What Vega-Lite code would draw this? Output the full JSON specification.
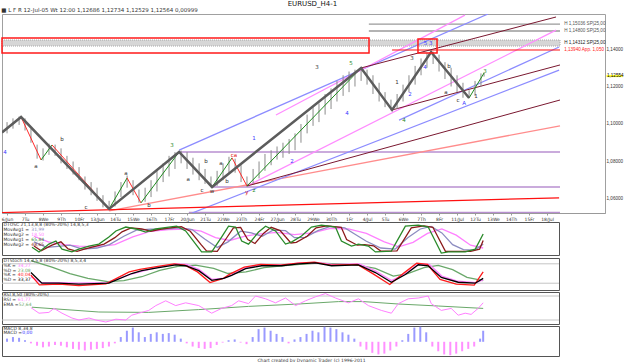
{
  "$schema": "https://vega.github.io/schema/vega-lite/v6.json",
  "padding": {"left": 0, "top": 0, "right": 0, "bottom": 0},
  "spacing": 0,
  "resolve": {"scale": {"color": "independent", "strokeWidth": "independent", "x": "independent", "y": "independent"}},
  "title": {"text": "EURUSD_H4-1", "fontSize": 7, "fontWeight": "normal", "anchor": "middle", "offset": 0, "color": "#111"},
  "config": {"font": "DejaVu Sans", "view": {"stroke": "#555", "strokeWidth": 1}, "axis": {"grid": false}},
  "datasets": {
    "bars": [
      {"u":0,"p":1.0950,"p2":1.1010},{"u":0.33,"p":1.0975,"p2":1.1030},{"u":0.67,"p":1.0995,"p2":1.1040},{"u":1.0,"p":1.0965,"p2":1.1030},
      {"u":1.33,"p":1.0900,"p2":1.0975},{"u":1.67,"p":1.0815,"p2":1.0890},{"u":2.0,"p":1.0805,"p2":1.0870},{"u":2.33,"p":1.0835,"p2":1.0895},
      {"u":2.67,"p":1.0830,"p2":1.0890},{"u":3.0,"p":1.0790,"p2":1.0870},{"u":3.33,"p":1.0760,"p2":1.0830},{"u":3.67,"p":1.0730,"p2":1.0800},
      {"u":4.0,"p":1.0700,"p2":1.0770},{"u":4.33,"p":1.0650,"p2":1.0720},{"u":4.67,"p":1.0620,"p2":1.0690},{"u":5.0,"p":1.0590,"p2":1.0660},
      {"u":5.33,"p":1.0555,"p2":1.0620},{"u":5.67,"p":1.0545,"p2":1.0590},{"u":6.0,"p":1.0560,"p2":1.0640},{"u":6.33,"p":1.0610,"p2":1.0690},
      {"u":6.67,"p":1.0660,"p2":1.0725},{"u":7.0,"p":1.0620,"p2":1.0700},{"u":7.33,"p":1.0580,"p2":1.0650},{"u":7.67,"p":1.0585,"p2":1.0660},
      {"u":8.0,"p":1.0610,"p2":1.0700},{"u":8.33,"p":1.0640,"p2":1.0760},{"u":8.67,"p":1.0690,"p2":1.0790},{"u":9.0,"p":1.0720,"p2":1.0830},
      {"u":9.33,"p":1.0760,"p2":1.0850},{"u":9.67,"p":1.0790,"p2":1.0858},{"u":10.0,"p":1.0760,"p2":1.0850},{"u":10.33,"p":1.0730,"p2":1.0820},
      {"u":10.67,"p":1.0700,"p2":1.0790},{"u":11.0,"p":1.0680,"p2":1.0760},{"u":11.33,"p":1.0662,"p2":1.0720},{"u":11.67,"p":1.0670,"p2":1.0750},
      {"u":12.0,"p":1.0700,"p2":1.0790},{"u":12.33,"p":1.0740,"p2":1.0825},{"u":12.67,"p":1.0740,"p2":1.0815},{"u":13.0,"p":1.0690,"p2":1.0780},
      {"u":13.33,"p":1.0665,"p2":1.0720},{"u":13.67,"p":1.0680,"p2":1.0760},{"u":14.0,"p":1.0710,"p2":1.0800},{"u":14.33,"p":1.0750,"p2":1.0840},
      {"u":14.67,"p":1.0780,"p2":1.0860},{"u":15.0,"p":1.0810,"p2":1.0880},{"u":15.33,"p":1.0820,"p2":1.0900},{"u":15.67,"p":1.0840,"p2":1.0920},
      {"u":16.0,"p":1.0860,"p2":1.0950},{"u":16.33,"p":1.0900,"p2":1.1000},{"u":16.67,"p":1.0950,"p2":1.1050},{"u":17.0,"p":1.0990,"p2":1.1090},
      {"u":17.33,"p":1.1010,"p2":1.1110},{"u":17.67,"p":1.1050,"p2":1.1160},{"u":18.0,"p":1.1080,"p2":1.1190},{"u":18.33,"p":1.1120,"p2":1.1230},
      {"u":18.67,"p":1.1150,"p2":1.1260},{"u":19.0,"p":1.1170,"p2":1.1280},{"u":19.33,"p":1.1200,"p2":1.1290},{"u":19.67,"p":1.1230,"p2":1.1302},
      {"u":20.0,"p":1.1210,"p2":1.1290},{"u":20.33,"p":1.1160,"p2":1.1260},{"u":20.67,"p":1.1120,"p2":1.1220},{"u":21.0,"p":1.1090,"p2":1.1170},
      {"u":21.33,"p":1.1073,"p2":1.1130},{"u":21.67,"p":1.1080,"p2":1.1160},{"u":22.0,"p":1.1120,"p2":1.1210},{"u":22.33,"p":1.1170,"p2":1.1260},
      {"u":22.67,"p":1.1210,"p2":1.1310},{"u":23.0,"p":1.1260,"p2":1.1350},{"u":23.33,"p":1.1300,"p2":1.1380},{"u":23.67,"p":1.1320,"p2":1.1386},
      {"u":24.0,"p":1.1280,"p2":1.1370},{"u":24.33,"p":1.1240,"p2":1.1330},{"u":24.67,"p":1.1200,"p2":1.1300},{"u":25.0,"p":1.1170,"p2":1.1260},
      {"u":25.33,"p":1.1140,"p2":1.1220},{"u":25.67,"p":1.1137,"p2":1.1180},{"u":26.0,"p":1.1150,"p2":1.1230},{"u":26.33,"p":1.1200,"p2":1.1270},
      {"u":26.5,"p":1.1253,"p2":1.1273}
    ],
    "wave": [
      {"u":-0.28,"p":1.0955},{"u":0.78,"p":1.1037},{"u":5.67,"p":1.0547},{"u":9.56,"p":1.0851},{"u":11.39,"p":1.0664},
      {"u":19.67,"p":1.1299},{"u":21.39,"p":1.1075},{"u":23.56,"p":1.1384},{"u":25.67,"p":1.1139}
    ],
    "sub": [
      {"seg":"s1","dir":"down","u":0.78,"p":1.1037},{"seg":"s1","dir":"down","u":1.89,"p":1.0808},
      {"seg":"s2","dir":"up","u":1.89,"p":1.0808},{"seg":"s2","dir":"up","u":2.5,"p":1.0888},
      {"seg":"s3","dir":"down","u":2.5,"p":1.0888},{"seg":"s3","dir":"down","u":5.67,"p":1.0547},
      {"seg":"s4","dir":"up","u":5.67,"p":1.0547},{"seg":"s4","dir":"up","u":6.67,"p":1.0712},
      {"seg":"s5","dir":"down","u":6.67,"p":1.0712},{"seg":"s5","dir":"down","u":7.44,"p":1.0579},
      {"seg":"s6","dir":"up","u":7.44,"p":1.0579},{"seg":"s6","dir":"up","u":9.56,"p":1.0851},
      {"seg":"s7","dir":"up","u":11.39,"p":1.0664},{"seg":"s7","dir":"up","u":12.5,"p":1.0819},
      {"seg":"s8","dir":"down","u":12.5,"p":1.0819},{"seg":"s8","dir":"down","u":13.33,"p":1.0669},
      {"seg":"s9","dir":"up","u":13.33,"p":1.0669},{"seg":"s9","dir":"up","u":19.67,"p":1.1299},
      {"seg":"s10","dir":"up","u":25.67,"p":1.1139},{"seg":"s10","dir":"up","u":26.5,"p":1.1272}
    ],
    "trend": [
      {"id":"l1","kind":"lavender","u":9.56,"p":1.0851},{"id":"l1","kind":"lavender","u":30.72,"p":1.0851},
      {"id":"l2","kind":"lavender","u":11.39,"p":1.0664},{"id":"l2","kind":"lavender","u":30.72,"p":1.0664},
      {"id":"l3","kind":"lavender","u":10.1,"p":1.0528},{"id":"l3","kind":"lavender","u":30.72,"p":1.0528},
      {"id":"g1","kind":"grey","u":20.1,"p":1.1533},{"id":"g1","kind":"grey","u":30.72,"p":1.1533},
      {"id":"g2","kind":"grey","u":20.1,"p":1.1496},{"id":"g2","kind":"grey","u":30.72,"p":1.1496},
      {"id":"lr","kind":"lightred","u":5.67,"p":1.0536},{"id":"lr","kind":"lightred","u":30.72,"p":1.0990},
      {"id":"b1","kind":"blue","u":9.56,"p":1.0861},{"id":"b1","kind":"blue","u":26.72,"p":1.1587},
      {"id":"b2","kind":"blue","u":10.28,"p":1.0525},{"id":"b2","kind":"blue","u":30.67,"p":1.1288},
      {"id":"b3","kind":"blue","u":21.78,"p":1.1021},{"id":"b3","kind":"blue","u":30.67,"p":1.1411},
      {"id":"k1","kind":"pink","u":13.33,"p":1.0669},{"id":"k1","kind":"pink","u":30.5,"p":1.1501},
      {"id":"k2","kind":"pink","u":14.94,"p":1.1048},{"id":"k2","kind":"pink","u":25.44,"p":1.1581},
      {"id":"rb","kind":"red","u":-0.28,"p":1.0527},{"id":"rb","kind":"red","u":30.67,"p":1.0606},
      {"id":"rh","kind":"redh","u":21.39,"p":1.1395},{"id":"rh","kind":"redh","u":30.72,"p":1.1395},
      {"id":"m1","kind":"maroon","u":19.67,"p":1.1299},{"id":"m1","kind":"maroon","u":30.5,"p":1.1571},
      {"id":"m2","kind":"maroon","u":21.39,"p":1.1075},{"id":"m2","kind":"maroon","u":30.72,"p":1.1315},
      {"id":"m3","kind":"maroon","u":13.33,"p":1.0669},{"id":"m3","kind":"maroon","u":30.72,"p":1.1128}
    ],
    "zones": [
      {"kind":"band","u":-0.28,"u2":30.72,"p":1.1416,"p2":1.1448},
      {"kind":"redbox","u":-0.28,"u2":20.11,"p":1.1379,"p2":1.1459},
      {"kind":"redbox","u":22.83,"u2":23.89,"p":1.1379,"p2":1.1453},
      {"kind":"last","u":33.3,"u2":34.2,"p":1.1250,"p2":1.1262}
    ],
    "labels": [
      {"t":"4","kind":"b","u":-0.11,"p":1.0851},{"t":"a","kind":"k","u":1.61,"p":1.0776},{"t":"b","kind":"k","u":3.06,"p":1.0920},
      {"t":"c","kind":"k","u":4.39,"p":1.0556},{"t":"a","kind":"k","u":6.61,"p":1.0740},{"t":"b","kind":"k","u":7.89,"p":1.0568},
      {"t":"3","kind":"g","u":9.17,"p":1.0890},{"t":"a","kind":"k","u":10.06,"p":1.0707},{"t":"b","kind":"k","u":11.06,"p":1.0803},
      {"t":"c","kind":"k","u":10.83,"p":1.0648},{"t":"w","kind":"k","u":11.39,"p":1.0645},{"t":"a","kind":"k","u":11.89,"p":1.0792},
      {"t":"b","kind":"k","u":12.22,"p":1.0696},{"t":"ca","kind":"r","u":12.61,"p":1.0832},{"t":"y","kind":"r","u":13.33,"p":1.0635},
      {"t":"z","kind":"g","u":13.72,"p":1.0648},{"t":"1","kind":"b","u":13.72,"p":1.0925},{"t":"2","kind":"b","u":15.83,"p":1.0803},
      {"t":"3","kind":"k","u":17.22,"p":1.1304},{"t":"5","kind":"g","u":19.11,"p":1.1325},{"t":"4","kind":"b","u":18.89,"p":1.1059},
      {"t":"4","kind":"g","u":22.06,"p":1.1021},{"t":"1","kind":"k","u":21.67,"p":1.1224},{"t":"2","kind":"b","u":22.39,"p":1.1160},
      {"t":"3","kind":"k","u":22.5,"p":1.1352},{"t":"4","kind":"b","u":23.22,"p":1.1304},{"t":"5 3","kind":"b","u":23.4,"p":1.1432},
      {"t":"b","kind":"k","u":24.56,"p":1.1309},{"t":"a","kind":"k","u":24.39,"p":1.1171},{"t":"c","kind":"k","u":25.06,"p":1.1128},
      {"t":"A","kind":"b","u":25.39,"p":1.1110},{"t":"1","kind":"k","u":26.06,"p":1.1149},{"t":"3","kind":"g","u":26.56,"p":1.1285}
    ],
    "notes": [
      {"t":"H 1,15036 SP|25,00","kind":"grey","u":30.95,"p":1.1533},
      {"t":"H 1,14800 SP|25,00","kind":"grey","u":30.95,"p":1.1496},
      {"t":"H 1,14312 SP|25,00","kind":"bold","u":30.95,"p":1.1434},
      {"t":"1,13940 App. 1,050","kind":"red","u":30.95,"p":1.1395},
      {"t":"1,12554","kind":"last","u":33.33,"p":1.1256}
    ],
    "osc": [
      {"s":"ma2","u":1.5,"v":60},{"s":"ma2","u":2.3,"v":40},{"s":"ma2","u":3.2,"v":30},{"s":"ma2","u":4.0,"v":25},{"s":"ma2","u":5.0,"v":22},{"s":"ma2","u":6.0,"v":30},{"s":"ma2","u":7.0,"v":58},{"s":"ma2","u":8.0,"v":78},{"s":"ma2","u":9.0,"v":84},{"s":"ma2","u":10.0,"v":86},{"s":"ma2","u":10.8,"v":78},{"s":"ma2","u":11.6,"v":55},{"s":"ma2","u":12.4,"v":45},{"s":"ma2","u":13.2,"v":60},{"s":"ma2","u":14.0,"v":68},{"s":"ma2","u":15.0,"v":74},{"s":"ma2","u":16.0,"v":66},{"s":"ma2","u":17.0,"v":72},{"s":"ma2","u":18.0,"v":88},{"s":"ma2","u":19.0,"v":86},{"s":"ma2","u":20.0,"v":70},{"s":"ma2","u":21.0,"v":40},{"s":"ma2","u":21.8,"v":22},{"s":"ma2","u":22.6,"v":38},{"s":"ma2","u":23.4,"v":70},{"s":"ma2","u":24.2,"v":86},{"s":"ma2","u":25.0,"v":64},{"s":"ma2","u":25.8,"v":28},{"s":"ma2","u":26.5,"v":18},
      {"s":"ma1","u":1.5,"v":40},{"s":"ma1","u":2.2,"v":20},{"s":"ma1","u":3.0,"v":25},{"s":"ma1","u":3.5,"v":28},{"s":"ma1","u":4.2,"v":14},{"s":"ma1","u":5.0,"v":18},{"s":"ma1","u":5.7,"v":30},{"s":"ma1","u":6.5,"v":60},{"s":"ma1","u":7.2,"v":82},{"s":"ma1","u":8.0,"v":85},{"s":"ma1","u":8.8,"v":86},{"s":"ma1","u":9.6,"v":90},{"s":"ma1","u":10.3,"v":84},{"s":"ma1","u":11.0,"v":50},{"s":"ma1","u":11.7,"v":20},{"s":"ma1","u":12.3,"v":40},{"s":"ma1","u":13.0,"v":78},{"s":"ma1","u":13.6,"v":72},{"s":"ma1","u":14.2,"v":60},{"s":"ma1","u":14.8,"v":82},{"s":"ma1","u":15.5,"v":80},{"s":"ma1","u":16.0,"v":55},{"s":"ma1","u":16.6,"v":56},{"s":"ma1","u":17.3,"v":80},{"s":"ma1","u":18.0,"v":95},{"s":"ma1","u":18.8,"v":90},{"s":"ma1","u":19.3,"v":70},{"s":"ma1","u":20.0,"v":42},{"s":"ma1","u":20.8,"v":18},{"s":"ma1","u":21.6,"v":14},{"s":"ma1","u":22.3,"v":55},{"s":"ma1","u":23.0,"v":86},{"s":"ma1","u":23.6,"v":95},{"s":"ma1","u":24.2,"v":72},{"s":"ma1","u":24.8,"v":30},{"s":"ma1","u":25.4,"v":12},{"s":"ma1","u":26.0,"v":10},{"s":"ma1","u":26.5,"v":32},
      {"s":"slow","u":1.5,"v":25},{"s":"slow","u":1.9,"v":8},{"s":"slow","u":2.5,"v":28},{"s":"slow","u":3.0,"v":40},{"s":"slow","u":3.4,"v":15},{"s":"slow","u":3.9,"v":6},{"s":"slow","u":4.3,"v":14},{"s":"slow","u":4.9,"v":24},{"s":"slow","u":5.4,"v":32},{"s":"slow","u":6.0,"v":55},{"s":"slow","u":6.4,"v":76},{"s":"slow","u":6.9,"v":90},{"s":"slow","u":7.5,"v":86},{"s":"slow","u":8.0,"v":78},{"s":"slow","u":8.6,"v":86},{"s":"slow","u":9.3,"v":92},{"s":"slow","u":9.7,"v":94},{"s":"slow","u":10.2,"v":78},{"s":"slow","u":10.8,"v":30},{"s":"slow","u":11.1,"v":8},{"s":"slow","u":11.7,"v":6},{"s":"slow","u":12.2,"v":52},{"s":"slow","u":12.6,"v":90},{"s":"slow","u":13.0,"v":92},{"s":"slow","u":13.4,"v":48},{"s":"slow","u":13.8,"v":34},{"s":"slow","u":14.3,"v":72},{"s":"slow","u":14.7,"v":92},{"s":"slow","u":15.2,"v":80},{"s":"slow","u":15.8,"v":36},{"s":"slow","u":16.1,"v":38},{"s":"slow","u":16.7,"v":60},{"s":"slow","u":17.2,"v":90},{"s":"slow","u":17.8,"v":97},{"s":"slow","u":18.6,"v":92},{"s":"slow","u":18.9,"v":48},{"s":"slow","u":19.5,"v":28},{"s":"slow","u":19.9,"v":30},{"s":"slow","u":20.4,"v":26},{"s":"slow","u":20.8,"v":7},{"s":"slow","u":21.7,"v":8},{"s":"slow","u":22.5,"v":90},{"s":"slow","u":23.2,"v":97},{"s":"slow","u":23.7,"v":92},{"s":"slow","u":24.4,"v":6},{"s":"slow","u":24.9,"v":6},{"s":"slow","u":25.8,"v":6},{"s":"slow","u":26.3,"v":14},{"s":"slow","u":26.5,"v":45},
      {"s":"fast","u":1.39,"v":21},{"s":"fast","u":1.78,"v":4},{"s":"fast","u":2.33,"v":32},{"s":"fast","u":2.72,"v":43},{"s":"fast","u":3.06,"v":14},{"s":"fast","u":3.61,"v":4},{"s":"fast","u":4.0,"v":14},{"s":"fast","u":4.56,"v":25},{"s":"fast","u":5.11,"v":32},{"s":"fast","u":5.67,"v":57},{"s":"fast","u":6.06,"v":79},{"s":"fast","u":6.61,"v":93},{"s":"fast","u":7.17,"v":86},{"s":"fast","u":7.72,"v":75},{"s":"fast","u":8.28,"v":86},{"s":"fast","u":9.0,"v":93},{"s":"fast","u":9.44,"v":96},{"s":"fast","u":9.94,"v":79},{"s":"fast","u":10.5,"v":32},{"s":"fast","u":10.83,"v":4},{"s":"fast","u":11.39,"v":4},{"s":"fast","u":11.94,"v":57},{"s":"fast","u":12.33,"v":96},{"s":"fast","u":12.72,"v":93},{"s":"fast","u":13.06,"v":43},{"s":"fast","u":13.44,"v":32},{"s":"fast","u":14.0,"v":75},{"s":"fast","u":14.39,"v":96},{"s":"fast","u":14.94,"v":79},{"s":"fast","u":15.5,"v":32},{"s":"fast","u":15.83,"v":39},{"s":"fast","u":16.39,"v":61},{"s":"fast","u":16.94,"v":93},{"s":"fast","u":17.5,"v":100},{"s":"fast","u":18.28,"v":93},{"s":"fast","u":18.61,"v":43},{"s":"fast","u":19.17,"v":25},{"s":"fast","u":19.56,"v":32},{"s":"fast","u":20.11,"v":25},{"s":"fast","u":20.5,"v":4},{"s":"fast","u":21.39,"v":7},{"s":"fast","u":22.17,"v":96},{"s":"fast","u":22.89,"v":100},{"s":"fast","u":23.44,"v":93},{"s":"fast","u":24.17,"v":0},{"s":"fast","u":24.56,"v":4},{"s":"fast","u":25.5,"v":4},{"s":"fast","u":26.06,"v":14},{"s":"fast","u":26.5,"v":68}
    ],
    "stoch": [
      {"s":"gd","u":1.33,"v":90},{"s":"gd","u":2.5,"v":70},{"s":"gd","u":3.5,"v":50},{"s":"gd","u":4.5,"v":35},{"s":"gd","u":5.6,"v":25},{"s":"gd","u":6.5,"v":28},{"s":"gd","u":7.5,"v":40},{"s":"gd","u":8.5,"v":60},{"s":"gd","u":9.5,"v":72},{"s":"gd","u":10.5,"v":76},{"s":"gd","u":11.5,"v":66},{"s":"gd","u":12.3,"v":50},{"s":"gd","u":13.3,"v":55},{"s":"gd","u":14.3,"v":68},{"s":"gd","u":15.3,"v":74},{"s":"gd","u":16.3,"v":78},{"s":"gd","u":17.3,"v":82},{"s":"gd","u":18.5,"v":80},{"s":"gd","u":19.5,"v":76},{"s":"gd","u":20.5,"v":66},{"s":"gd","u":21.5,"v":42},{"s":"gd","u":22.3,"v":50},{"s":"gd","u":23.2,"v":68},{"s":"gd","u":24.0,"v":75},{"s":"gd","u":24.8,"v":62},{"s":"gd","u":25.6,"v":38},{"s":"gd","u":26.5,"v":28},
      {"s":"pk","u":1.33,"v":40},{"s":"pk","u":1.9,"v":22},{"s":"pk","u":2.9,"v":22},{"s":"pk","u":4.0,"v":20},{"s":"pk","u":5.6,"v":22},{"s":"pk","u":6.9,"v":48},{"s":"pk","u":7.5,"v":57},{"s":"pk","u":8.4,"v":70},{"s":"pk","u":9.4,"v":80},{"s":"pk","u":10.0,"v":78},{"s":"pk","u":10.7,"v":62},{"s":"pk","u":11.4,"v":32},{"s":"pk","u":12.1,"v":36},{"s":"pk","u":12.5,"v":46},{"s":"pk","u":13.3,"v":68},{"s":"pk","u":14.2,"v":78},{"s":"pk","u":15.3,"v":76},{"s":"pk","u":16.2,"v":82},{"s":"pk","u":17.2,"v":84},{"s":"pk","u":18.1,"v":78},{"s":"pk","u":19.6,"v":80},{"s":"pk","u":20.5,"v":58},{"s":"pk","u":21.4,"v":28},{"s":"pk","u":22.2,"v":50},{"s":"pk","u":22.9,"v":80},{"s":"pk","u":23.5,"v":78},{"s":"pk","u":24.2,"v":42},{"s":"pk","u":25.1,"v":26},{"s":"pk","u":26.1,"v":22},{"s":"pk","u":26.5,"v":30},
      {"s":"rk","u":1.33,"v":45},{"s":"rk","u":1.8,"v":15},{"s":"rk","u":2.9,"v":17},{"s":"rk","u":4.0,"v":13},{"s":"rk","u":5.5,"v":18},{"s":"rk","u":6.8,"v":55},{"s":"rk","u":7.4,"v":63},{"s":"rk","u":8.4,"v":72},{"s":"rk","u":9.3,"v":80},{"s":"rk","u":9.9,"v":76},{"s":"rk","u":10.6,"v":55},{"s":"rk","u":11.3,"v":22},{"s":"rk","u":12.0,"v":34},{"s":"rk","u":12.4,"v":48},{"s":"rk","u":13.2,"v":70},{"s":"rk","u":14.1,"v":78},{"s":"rk","u":15.2,"v":76},{"s":"rk","u":16.2,"v":82},{"s":"rk","u":17.1,"v":85},{"s":"rk","u":18.0,"v":76},{"s":"rk","u":19.5,"v":78},{"s":"rk","u":20.4,"v":48},{"s":"rk","u":21.3,"v":16},{"s":"rk","u":22.1,"v":52},{"s":"rk","u":22.8,"v":82},{"s":"rk","u":23.4,"v":78},{"s":"rk","u":24.1,"v":32},{"s":"rk","u":25.0,"v":17},{"s":"rk","u":26.0,"v":14},{"s":"rk","u":26.5,"v":55},
      {"s":"bd","u":1.33,"v":53},{"s":"bd","u":1.94,"v":20},{"s":"bd","u":2.89,"v":20},{"s":"bd","u":4.0,"v":17},{"s":"bd","u":5.67,"v":20},{"s":"bd","u":6.94,"v":50},{"s":"bd","u":7.5,"v":59},{"s":"bd","u":8.44,"v":68},{"s":"bd","u":9.39,"v":77},{"s":"bd","u":9.94,"v":74},{"s":"bd","u":10.67,"v":59},{"s":"bd","u":11.39,"v":29},{"s":"bd","u":12.06,"v":35},{"s":"bd","u":12.5,"v":44},{"s":"bd","u":13.28,"v":65},{"s":"bd","u":14.17,"v":74},{"s":"bd","u":15.28,"v":74},{"s":"bd","u":16.22,"v":80},{"s":"bd","u":17.17,"v":83},{"s":"bd","u":18.06,"v":74},{"s":"bd","u":19.56,"v":77},{"s":"bd","u":20.5,"v":53},{"s":"bd","u":21.39,"v":23},{"s":"bd","u":22.17,"v":47},{"s":"bd","u":22.89,"v":77},{"s":"bd","u":23.44,"v":74},{"s":"bd","u":24.17,"v":38},{"s":"bd","u":25.11,"v":23},{"s":"bd","u":26.06,"v":20},{"s":"bd","u":26.5,"v":35}
    ],
    "rsi": [
      {"s":"ema","u":1.39,"v":52},{"s":"ema","u":5.11,"v":40},{"s":"ema","u":7.89,"v":39},{"s":"ema","u":10.67,"v":46},{"s":"ema","u":13.44,"v":54},{"s":"ema","u":16.22,"v":60},{"s":"ema","u":18.44,"v":66},{"s":"ema","u":19.83,"v":66},{"s":"ema","u":21.78,"v":60},{"s":"ema","u":24.0,"v":55},{"s":"ema","u":26.5,"v":49},
      {"s":"rsi","u":1.33,"v":51},{"s":"rsi","u":1.78,"v":37},{"s":"rsi","u":2.33,"v":39},{"s":"rsi","u":2.61,"v":49},{"s":"rsi","u":3.06,"v":37},{"s":"rsi","u":3.61,"v":25},{"s":"rsi","u":4.0,"v":20},{"s":"rsi","u":4.56,"v":25},{"s":"rsi","u":4.94,"v":20},{"s":"rsi","u":5.5,"v":15},{"s":"rsi","u":6.06,"v":22},{"s":"rsi","u":6.61,"v":20},{"s":"rsi","u":6.94,"v":32},{"s":"rsi","u":7.33,"v":37},{"s":"rsi","u":7.89,"v":44},{"s":"rsi","u":8.28,"v":56},{"s":"rsi","u":8.83,"v":68},{"s":"rsi","u":9.39,"v":56},{"s":"rsi","u":9.94,"v":63},{"s":"rsi","u":10.67,"v":56},{"s":"rsi","u":11.39,"v":37},{"s":"rsi","u":11.94,"v":49},{"s":"rsi","u":12.5,"v":56},{"s":"rsi","u":12.89,"v":68},{"s":"rsi","u":13.44,"v":61},{"s":"rsi","u":13.83,"v":80},{"s":"rsi","u":14.39,"v":73},{"s":"rsi","u":14.94,"v":63},{"s":"rsi","u":15.5,"v":75},{"s":"rsi","u":16.06,"v":56},{"s":"rsi","u":16.61,"v":68},{"s":"rsi","u":17.17,"v":78},{"s":"rsi","u":17.72,"v":86},{"s":"rsi","u":18.28,"v":75},{"s":"rsi","u":19.0,"v":63},{"s":"rsi","u":19.56,"v":73},{"s":"rsi","u":20.11,"v":56},{"s":"rsi","u":20.83,"v":44},{"s":"rsi","u":21.39,"v":37},{"s":"rsi","u":21.78,"v":61},{"s":"rsi","u":22.33,"v":73},{"s":"rsi","u":22.89,"v":75},{"s":"rsi","u":23.44,"v":80},{"s":"rsi","u":23.61,"v":61},{"s":"rsi","u":24.17,"v":44},{"s":"rsi","u":24.72,"v":49},{"s":"rsi","u":25.11,"v":32},{"s":"rsi","u":25.5,"v":37},{"s":"rsi","u":25.83,"v":34},{"s":"rsi","u":26.22,"v":49},{"s":"rsi","u":26.5,"v":63}
    ],
    "macd": [
      {"u":0,"v":0.2},{"u":0.33,"v":0.3},{"u":0.67,"v":0.25},{"u":1.0,"v":0.1},{"u":1.33,"v":-0.1},{"u":1.67,"v":-0.25},{"u":2.0,"v":-0.35},{"u":2.33,"v":-0.3},{"u":2.67,"v":-0.2},{"u":3.0,"v":-0.25},
      {"u":3.33,"v":-0.35},{"u":3.67,"v":-0.45},{"u":4.0,"v":-0.5},{"u":4.33,"v":-0.55},{"u":4.67,"v":-0.5},{"u":5.0,"v":-0.45},{"u":5.33,"v":-0.4},{"u":5.67,"v":-0.3},{"u":6.0,"v":-0.1},{"u":6.33,"v":0.3},
      {"u":6.67,"v":0.7},{"u":7.0,"v":0.9},{"u":7.33,"v":0.6},{"u":7.67,"v":0.3},{"u":8.0,"v":0.5},{"u":8.33,"v":0.6},{"u":8.67,"v":0.5},{"u":9.0,"v":0.55},{"u":9.33,"v":0.45},{"u":9.67,"v":0.2},
      {"u":10.0,"v":-0.1},{"u":10.33,"v":-0.3},{"u":10.67,"v":-0.4},{"u":11.0,"v":-0.45},{"u":11.33,"v":-0.4},{"u":11.67,"v":-0.2},{"u":12.0,"v":-0.05},{"u":12.33,"v":0.1},{"u":12.67,"v":0.15},{"u":13.0,"v":-0.05},
      {"u":13.33,"v":-0.15},{"u":13.67,"v":0.3},{"u":14.0,"v":0.8},{"u":14.33,"v":0.9},{"u":14.67,"v":0.7},{"u":15.0,"v":0.5},{"u":15.33,"v":0.3},{"u":15.67,"v":-0.1},{"u":16.0,"v":0.15},{"u":16.33,"v":0.3},
      {"u":16.67,"v":0.5},{"u":17.0,"v":0.7},{"u":17.33,"v":0.6},{"u":17.67,"v":0.95},{"u":18.0,"v":0.9},{"u":18.33,"v":0.8},{"u":18.67,"v":0.6},{"u":19.0,"v":0.45},{"u":19.33,"v":0.2},{"u":19.67,"v":-0.3},
      {"u":20.0,"v":-0.5},{"u":20.33,"v":-0.7},{"u":20.67,"v":-0.8},{"u":21.0,"v":-0.75},{"u":21.33,"v":-0.55},{"u":21.67,"v":-0.3},{"u":22.0,"v":0.1},{"u":22.33,"v":0.5},{"u":22.67,"v":0.9},{"u":23.0,"v":0.95},
      {"u":23.33,"v":0.6},{"u":23.67,"v":-0.3},{"u":24.0,"v":-0.6},{"u":24.33,"v":-0.8},{"u":24.67,"v":-0.85},{"u":25.0,"v":-0.75},{"u":25.33,"v":-0.6},{"u":25.67,"v":-0.45},{"u":26.0,"v":-0.3},{"u":26.33,"v":0.2},{"u":26.5,"v":0.7}
    ],
    "levels": [
      {"pn":2,"v":80},{"pn":2,"v":20},{"pn":3,"v":80},{"pn":3,"v":20}
    ],
    "legend": [
      {"pn":1,"t":"DTOSC 21,13,8,8 (80%-20%) 14,8,5,3","s":"hdr","u":-0.2,"v":100},
      {"pn":1,"t":"MovAvg1 =","s":"hdr","u":-0.2,"v":82},{"pn":1,"t":"31,99","s":"ma1","u":1.35,"v":82},
      {"pn":1,"t":"MovAvg2 =","s":"hdr","u":-0.2,"v":64},{"pn":1,"t":"18,50","s":"ma2","u":1.35,"v":64},
      {"pn":1,"t":"MovAvg1 =","s":"hdr","u":-0.2,"v":46},{"pn":1,"t":"65,84","s":"fast","u":1.35,"v":46},
      {"pn":1,"t":"MovAvg2 =","s":"hdr","u":-0.2,"v":29},{"pn":1,"t":"48,65","s":"slow","u":1.35,"v":29},
      {"pn":2,"t":"DTStoch 14,3,5,8 (80%-20%) 8,5,3,4","s":"hdr","u":-0.2,"v":89},
      {"pn":2,"t":"%K =","s":"hdr","u":-0.2,"v":74},{"pn":2,"t":"34,27","s":"pk","u":0.6,"v":74},
      {"pn":2,"t":"%D =","s":"hdr","u":-0.2,"v":59},{"pn":2,"t":"23,08","s":"gd","u":0.6,"v":59},
      {"pn":2,"t":"%K =","s":"hdr","u":-0.2,"v":44},{"pn":2,"t":"40,04","s":"rk","u":0.6,"v":44},
      {"pn":2,"t":"%D =","s":"hdr","u":-0.2,"v":29},{"pn":2,"t":"33,37","s":"bd","u":0.6,"v":29},
      {"pn":3,"t":"RSI 8,50 (80%-20%)","s":"hdr","u":-0.2,"v":82},
      {"pn":3,"t":"RSI =","s":"hdr","u":-0.2,"v":70},{"pn":3,"t":"61,77","s":"rsi","u":0.6,"v":70},
      {"pn":3,"t":"EMA =","s":"hdr","u":-0.2,"v":58},{"pn":3,"t":"52,64","s":"ema","u":0.65,"v":58},
      {"pn":4,"t":"MACD 8,34,8","s":"hdr","u":-0.2,"v":0.83},
      {"pn":4,"t":"MACD =","s":"hdr","u":-0.2,"v":0.53},{"pn":4,"t":"0,00","s":"mv","u":0.85,"v":0.53}
    ]
  },
  "vconcat": [
    {
      "width": 603, "height": 199,
      "title": {"text": "\u25a0 L F R   12-Jul-05 Wt 12:00   1,12686   1,12734   1,12529   1,12564   0,00999", "anchor": "start", "fontSize": 5.5, "fontWeight": "normal", "offset": 1, "color": "#333"},
      "view": {"stroke": "#a0a0a0", "strokeWidth": 1},
      "resolve": {"scale": {"color": "independent", "strokeWidth": "independent"}},
      "encoding": {
        "x": {"field": "u", "type": "quantitative", "scale": {"domain": [-0.28, 33.22], "nice": false, "zero": false},
          "axis": {"values": [0,1,2,3,4,5,6,7,8,9,10,11,12,13,14,15,16,17,18,19,20,21,22,23,24,25,26,27,28,29,30],
            "labelExpr": "['6/Jun','7Tu','8We','9Th','10Fr','13/Jun','14Tu','15We','16Th','17Fr','20/Jun','21Tu','22We','23Th','24Fr','27/Jun','28Tu','29We','30Th','1Fr','4/Jul','5Tu','6We','7Th','8Fr','11/Jul','12Tu','13We','14Th','15Fr','18/Jul'][datum.value]",
            "labelFontSize": 4.5, "labelColor": "#333", "tickSize": 2, "tickColor": "#999", "domainColor": "#999", "labelPadding": 1, "title": null, "grid": false, "labelFlush": false, "labelOverlap": false}},
        "y": {"field": "p", "type": "quantitative", "scale": {"domain": [1.0525, 1.1587], "nice": false, "zero": false},
          "axis": {"orient": "right", "values": [1.06, 1.08, 1.1, 1.12, 1.14], "labelExpr": "replace(format(datum.value,'.5f'),'.',',')", "labelFont": "Liberation Sans", "labelFontSize": 4.6, "labelColor": "#333", "ticks": false, "domain": false, "labelPadding": 1, "title": null, "grid": false}}
      },
      "layer": [
        {"data": {"name": "zones"}, "transform": [{"filter": "datum.kind === 'band'"}],
         "mark": {"type": "rect", "fill": "#d6d6d6", "stroke": "#a8a8a8", "strokeDash": [1, 1], "strokeWidth": 1},
         "encoding": {"x2": {"field": "u2"}, "y2": {"field": "p2"}}},
        {"data": {"name": "trend"}, "mark": {"type": "line", "clip": true},
         "encoding": {"detail": {"field": "id"},
           "color": {"field": "kind", "type": "nominal", "legend": null, "scale": {"domain": ["lavender","grey","lightred","blue","pink","red","redh","maroon"], "range": ["#b88fd0","#9a9a9a","#ff8c8c","#8c8cff","#ff8cff","#ff1010","#ff1010","#7a1830"]}},
           "strokeWidth": {"field": "kind", "type": "nominal", "legend": null, "scale": {"domain": ["lavender","grey","lightred","blue","pink","red","redh","maroon"], "range": [1.5, 1, 1, 1, 1, 2, 1.5, 2.6]}}}},
        {"data": {"name": "bars"}, "mark": {"type": "rule", "color": "#8c8c8c", "strokeWidth": 1},
         "encoding": {"y2": {"field": "p2"}}},
        {"data": {"name": "sub"}, "mark": {"type": "line", "strokeWidth": 1},
         "encoding": {"detail": {"field": "seg"},
           "color": {"field": "dir", "type": "nominal", "legend": null, "scale": {"domain": ["up", "down"], "range": ["#1f8a1f", "#ff2a2a"]}}}},
        {"data": {"name": "wave"}, "mark": {"type": "line", "color": "#5c5c5c", "strokeWidth": 2.5, "clip": true}, "encoding": {}},
        {"data": {"name": "zones"}, "transform": [{"filter": "datum.kind === 'redbox'"}],
         "mark": {"type": "rect", "fill": null, "fillOpacity": 0, "stroke": "#ff1a1a", "strokeWidth": 1.5},
         "encoding": {"x2": {"field": "u2"}, "y2": {"field": "p2"}}},
        {"data": {"name": "zones"}, "transform": [{"filter": "datum.kind === 'last'"}],
         "mark": {"type": "rect", "fill": "#ffff33"},
         "encoding": {"x2": {"field": "u2"}, "y2": {"field": "p2"}}},
        {"data": {"name": "labels"}, "mark": {"type": "text", "fontSize": 5.5, "align": "center", "baseline": "middle"},
         "encoding": {"text": {"field": "t"},
           "color": {"field": "kind", "type": "nominal", "legend": null, "scale": {"domain": ["k","b","g","r"], "range": ["#333333","#3a3aff","#1f8a1f","#e02020"]}}}},
        {"data": {"name": "notes"}, "mark": {"type": "text", "font": "Liberation Sans", "fontSize": 4.6, "align": "left", "baseline": "middle"},
         "encoding": {"text": {"field": "t"},
           "color": {"field": "kind", "type": "nominal", "legend": null, "scale": {"domain": ["grey","bold","red","last"], "range": ["#555555","#222222","#ff2020","#000000"]}}}}
      ]
    },
    {
      "width": 557, "height": 33,
      "encoding": {
        "x": {"field": "u", "type": "quantitative", "scale": {"domain": [-0.28, 30.72], "nice": false, "zero": false}, "axis": null},
        "y": {"field": "v", "type": "quantitative", "scale": {"domain": [-7, 111], "nice": false, "zero": false}, "axis": null},
        "color": {"field": "s", "type": "nominal", "legend": null, "scale": {"domain": ["fast","slow","ma1","ma2","hdr"], "range": ["#2a8a2a","#8b1a1a","#8c8cc0","#ff80ff","#333333"]}}
      },
      "layer": [
        {"data": {"name": "osc"}, "mark": {"type": "line", "strokeWidth": 1.3}},
        {"data": {"name": "legend"}, "transform": [{"filter": "datum.pn === 1"}], "mark": {"type": "text", "fontSize": 4.5, "align": "left", "baseline": "middle"}, "encoding": {"text": {"field": "t"}}}
      ]
    },
    {
      "width": 557, "height": 32,
      "encoding": {
        "y": {"field": "v", "type": "quantitative", "scale": {"domain": [-1, 98], "nice": false, "zero": false}, "axis": null}
      },
      "layer": [
        {"data": {"name": "levels"}, "transform": [{"filter": "datum.pn === 2"}], "mark": {"type": "rule", "color": "#c4c4c4", "strokeWidth": 1}, "encoding": {}},
        {"data": {"name": "stoch"}, "mark": {"type": "line", "strokeWidth": 1.3},
         "encoding": {"x": {"field": "u", "type": "quantitative", "scale": {"domain": [-0.28, 30.72], "nice": false, "zero": false}, "axis": null},
           "color": {"field": "s", "type": "nominal", "legend": null, "scale": {"domain": ["gd","pk","rk","bd","hdr"], "range": ["#6aa86a","#ff80ff","#ff1a1a","#000000","#333333"]}}}},
        {"data": {"name": "legend"}, "transform": [{"filter": "datum.pn === 2"}], "mark": {"type": "text", "fontSize": 4.5, "align": "left", "baseline": "middle"},
         "encoding": {"x": {"field": "u", "type": "quantitative"}, "text": {"field": "t"},
           "color": {"field": "s", "type": "nominal", "legend": null}}}
      ]
    },
    {
      "width": 557, "height": 32,
      "encoding": {
        "y": {"field": "v", "type": "quantitative", "scale": {"domain": [10, 90], "nice": false, "zero": false}, "axis": null}
      },
      "layer": [
        {"data": {"name": "levels"}, "transform": [{"filter": "datum.pn === 3"}], "mark": {"type": "rule", "color": "#c4c4c4", "strokeWidth": 1}, "encoding": {}},
        {"data": {"name": "rsi"}, "mark": {"type": "line", "strokeWidth": 1},
         "encoding": {"x": {"field": "u", "type": "quantitative", "scale": {"domain": [-0.28, 30.72], "nice": false, "zero": false}, "axis": null},
           "color": {"field": "s", "type": "nominal", "legend": null, "scale": {"domain": ["rsi","ema","hdr"], "range": ["#ff80ff","#6aa86a","#333333"]}}}},
        {"data": {"name": "legend"}, "transform": [{"filter": "datum.pn === 3"}], "mark": {"type": "text", "fontSize": 4.5, "align": "left", "baseline": "middle"},
         "encoding": {"x": {"field": "u", "type": "quantitative"}, "text": {"field": "t"},
           "color": {"field": "s", "type": "nominal", "legend": null}}}
      ]
    },
    {
      "width": 557, "height": 30,
      "encoding": {
        "x": {"field": "u", "type": "quantitative", "scale": {"domain": [-0.28, 30.72], "nice": false, "zero": false},
          "axis": {"labels": false, "ticks": false, "domain": false, "grid": false, "title": "Chart created by Dynamic Trader  (c) 1996-2011", "titleFontSize": 4.5, "titleFontWeight": "normal", "titleColor": "#333", "titlePadding": 1, "titleX": 309}},
        "y": {"field": "v", "type": "quantitative", "scale": {"domain": [-0.9, 1.0], "nice": false, "zero": false}, "axis": null}
      },
      "layer": [
        {"data": {"name": "macd"}, "mark": {"type": "rule", "strokeWidth": 2},
         "encoding": {"y2": {"datum": 0}, "color": {"condition": {"test": "datum.v >= 0", "value": "#9a9aff"}, "value": "#ff90ff"}}},
        {"data": {"name": "legend"}, "transform": [{"filter": "datum.pn === 4"}], "mark": {"type": "text", "fontSize": 4.5, "align": "left", "baseline": "middle"},
         "encoding": {"text": {"field": "t"}, "color": {"field": "s", "type": "nominal", "legend": null, "scale": {"domain": ["hdr","mv"], "range": ["#333333","#3030ff"]}}}}
      ]
    }
  ]
}
